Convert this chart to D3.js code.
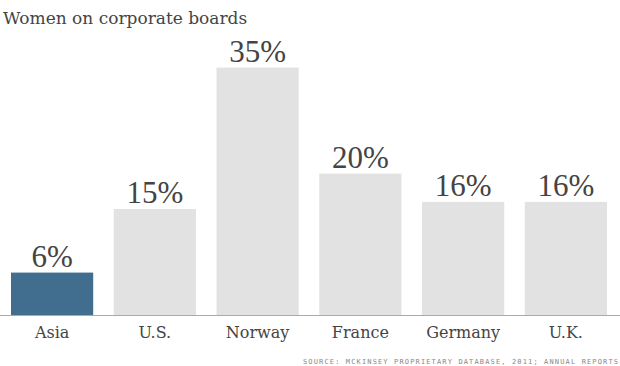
<!DOCTYPE html>
<html><head><meta charset="utf-8">
<script src="https://cdn.jsdelivr.net/npm/d3@7"></script>
<style>html,body{margin:0;padding:0;background:#fff;}</style>
</head><body>
<svg id="c" width="620" height="366"></svg>
<script>
const categories = ["Asia","U.S.","Norway","France","Germany","U.K."];
const values = [6,15,35,20,16,16];
const valueLabels = ["6%","15%","35%","20%","16%","16%"];
const title = "Women on corporate boards";
const source = "SOURCE: MCKINSEY PROPRIETARY DATABASE, 2011; ANNUAL REPORTS";

const svg = d3.select("#c");
const x = d3.scaleBand().domain(categories).range([11,607]).paddingInner(0.2).paddingOuter(0);
const y = d3.scaleLinear().domain([0,35]).range([315,67.6]);
const serif = "'Liberation Serif', serif";

svg.append("text").attr("x",3).attr("y",24).attr("fill","#444")
  .style("font-family","'DejaVu Serif', serif").style("font-size","17px").text(title);

svg.selectAll("rect.bar").data(values).join("rect").attr("class","bar")
  .attr("x",(d,i)=>x(categories[i])).attr("width",x.bandwidth())
  .attr("y",d=>y(d)).attr("height",d=>y(0)-y(d))
  .attr("fill",(d,i)=>i===0?"#416e8f":"#e2e2e2");

svg.append("line").attr("x1",0).attr("x2",620).attr("y1",y(0)+0.5).attr("y2",y(0)+0.5)
  .attr("stroke","#aaa").attr("stroke-width",1);

svg.selectAll("text.val").data(values).join("text").attr("class","val")
  .attr("x",(d,i)=>x(categories[i])+x.bandwidth()/2).attr("y",d=>y(d)-6)
  .attr("text-anchor","middle").attr("fill","#444")
  .style("font-family",serif).style("font-size","31px")
  .text((d,i)=>valueLabels[i]);

svg.selectAll("text.cat").data(categories).join("text").attr("class","cat")
  .attr("x",d=>x(d)+x.bandwidth()/2).attr("y",338)
  .attr("text-anchor","middle").attr("fill","#444")
  .style("font-family","'DejaVu Serif', serif").style("font-size","16px")
  .text(d=>d);

svg.append("text").attr("x",618).attr("y",364).attr("text-anchor","end").attr("fill","#888")
  .style("font-family","'DejaVu Sans Mono', monospace").style("font-size","7px")
  .attr("textLength",315).attr("lengthAdjust","spacing").text(source);
</script>
</body></html>
